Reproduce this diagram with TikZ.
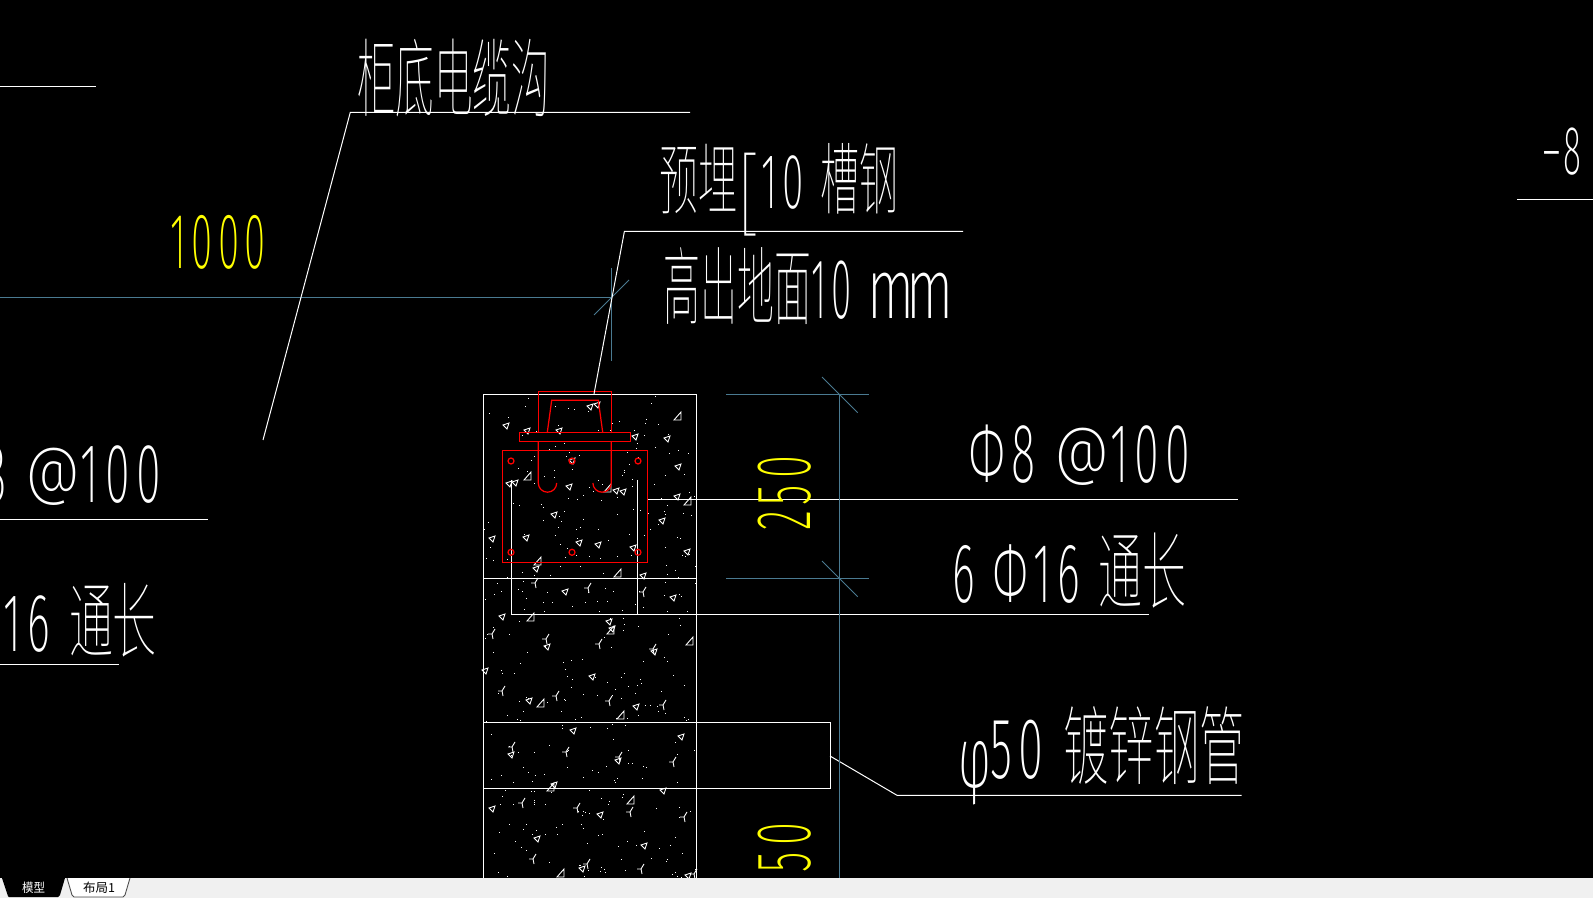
\documentclass[tikz,border=0pt]{standalone}
\usepackage{graphicx}
\usepackage{xcolor}
\usepackage{fontspec}
\usetikzlibrary{positioning}
\definecolor{dimblue}{rgb}{0.29, 0.48, 0.57}
\definecolor{cadyellow}{rgb}{1, 1, 0}
\definecolor{cadred}{rgb}{1, 0, 0}
\definecolor{bargrey}{rgb}{0.94, 0.94, 0.94}
\newfontfamily\cadcjk[UprightFont={* Thin}]{Noto Sans CJK SC}
\newfontfamily\tabcjk{Noto Sans CJK SC}
\newfontfamily\cadnum[LetterSpace=14,UprightFont={* ExtraLight}]{Fira Sans}
\newlength\pxu
\setlength\pxu{0.02cm}
\newcommand{\fitbox}[3]{\resizebox*{#1\pxu}{#2\pxu}{#3}}
\newcommand{\flatat}{\raisebox{0.11em}[0.69em][0pt]{\scalebox{1.2}[0.76]{@}}}

\begin{document}
\begin{tikzpicture}[x=0.02cm,y=-0.02cm]
	\tikzstyle{cadline} = [draw=white,line width=0.57pt]
	\tikzstyle{rebar} = [draw=cadred,line width=0.7pt]
	\tikzstyle{dimline} = [draw=dimblue,line width=0.57pt]
	\tikzstyle{label} = [inner sep=0pt,text=white]
	\tikzstyle{dimlabel} = [inner sep=0pt,text=cadyellow]
	\tikzstyle{speck} = [draw=white,line width=0.5pt]
	\useasboundingbox (0,0) rectangle (1593,898);
	\clip (0,0) rectangle (1593,898);
	\fill[black] (0,0) rectangle (1593,898);
	% concrete filling
	\pgfmathsetseed{4217}
	\foreach \i in {1,...,360} {
		\pgfmathsetmacro{\dx}{484+rnd*213}
		\pgfmathsetmacro{\dy}{395+rnd*483}
		\fill[white] (\dx,\dy) rectangle ++(1,1);
	}
	\foreach \x/\y in {678/417,688/502,618/574,538/562,528/477,608/489,531/618,611/631,690/642,541/704,621/716,551/788,631/801,561/874} {
		\draw[speck] (\x+3,\y-5) -- (\x+3,\y+3) -- (\x-4,\y+3) -- cycle;
	}
	\foreach \x/\y in {506/426,527/431,559/431,590/407,597/405,635/437,667/439,678/467,572/461,515/483,509/484,569/487,616/491,623/492,677/497,554/515,662/521,492/539,526/538,579/543,598/545,633/548,687/552,536/569,643/576,565/592,673/598,502/617,609/622,612/629,547/647,654/652,485/671,592/677,529/701,636/707,573/731,681/737,511/755,618/761,554/785,663/791,492/809,600/815,537/839,644/846,582/869,688/876} {
		\draw[speck] (\x-3,\y-1) -- (\x+3,\y-3) -- (\x+1,\y+3) -- cycle;
	}
	\foreach \x/\y in {535/583,588/588,643/592,492/634,546/639,599/644,653/649,502/691,556/696,609/701,663/705,512/747,566/752,619/757,673/762,522/803,577/808,630/812,684/817,533/859,587/864,641/869,694/874} {
		\draw[speck] (\x+3,\y-5) -- (\x,\y) -- (\x-4,\y);
		\draw[speck] (\x,\y) -- (\x+1,\y+5);
	}
	% concrete outline
	\draw[cadline] (483.7,878) -- (483.7,394.3) -- (696.7,394.3) -- (696.7,878);
	\draw[cadline] (483.7,578.3) -- (696.7,578.3);
	\draw[cadline] (511.3,480) -- (511.3,614.3) -- (1149,614.3);
	\draw[cadline] (637.3,480) -- (637.3,614.3);
	\draw[cadline] (647.7,499.3) -- (1237.7,499.3);
	% steel pipe
	\draw[cadline] (483.7,722.3) -- (830,722.3) -- (830,788.3) -- (483.7,788.3);
	\draw[cadline] (830,756) -- (897,795.3) -- (1241.7,795.3);
	% channel and bars
	\draw[rebar] (538.3,432.3) -- (538.3,391.3) -- (611.3,391.3) -- (611.3,432.3);
	\draw[rebar] (547.3,432.3) -- (551.7,400.3) -- (598.3,400.3) -- (602.7,432.3);
	\draw[rebar] (519.3,432.3) rectangle (630.7,441.7);
	\draw[rebar] (538.3,441.7) -- (538.3,483) arc (180:0:9.2);
	\draw[rebar] (611.3,441.7) -- (611.3,483) arc (0:180:9.2);
	\draw[rebar] (502.3,450.3) rectangle (647.3,562.3);
	\foreach \x in {511,572,638} {
		\foreach \y in {461,552.3} {
			\draw[rebar] (\x,\y) circle (3);
		}
	}
	% dimension lines
	\draw[dimline] (0,297.3) -- (611.6,297.3);
	\draw[dimline] (611.6,268) -- (611.6,361);
	\draw[dimline] (594,315) -- (629,280);
	\draw[dimline] (839.3,394.3) -- (839.3,878);
	\draw[dimline] (726,394.3) -- (869,394.3);
	\draw[dimline] (726,578.3) -- (869,578.3);
	\draw[dimline] (822,377) -- (857.7,412.7);
	\draw[dimline] (822,561) -- (857.7,596.7);
	% leaders
	\draw[cadline] (0,86.3) -- (96,86.3);
	\draw[cadline] (690,112.3) -- (350.3,112.3) -- (263,440);
	\draw[cadline] (963,231.3) -- (624.4,231.3) -- (594,394);
	\draw[cadline] (0,519.3) -- (208,519.3);
	\draw[cadline] (0,664.3) -- (118.7,664.3);
	\draw[cadline] (1517,199.3) -- (1593,199.3);
	% labels
	\node[label] (cable) at (453.5,78.5) {\fitbox{193}{78}{\cadcjk 柜底电缆沟}};
	\node[label] (channel) at (779,189.5) {\fitbox{239}{93}{\cadcjk 预埋\raisebox{-0.17em}{\scalebox{1.7}[1.12]{[}}\hspace{0.1em}{\cadnum 10 }槽钢}};
	\node[label] (height) at (809,286.5) {\fitbox{290}{77}{\cadcjk 高出地面{\cadnum 10 \scalebox{1.5}[1]{m\kern-0.14em m}}}};
	\node[label] (stirrupr) at (1080.3,453.5) {\fitbox{220.7}{59}{\cadnum Φ8 \flatat 100}};
	\node[label] (stirrupl) at (50.7,473.5) {\fitbox{220}{59}{\cadnum Φ8 \flatat 100}};
	\node[label] (mainr) at (1069,570.6) {\fitbox{234}{75.3}{{\cadnum 6 Φ16 }\cadcjk 通长}};
	\node[label] (mainl) at (39.7,619.8) {\fitbox{234}{73.7}{{\cadnum 6 Φ16 }\cadcjk 通长}};
	\node[label] (pipe) at (1101.5,746) {\fitbox{287}{78}{{\cadnum \raisebox{-0.1em}[0.7em][0pt]{φ}50 }\cadcjk 镀锌钢管}};
	\node[label] (minus) at (1561.3,152) {\fitbox{40.7}{47.4}{\cadnum \scalebox{1.7}[1]{-}8}};
	\node[dimlabel] (widtha) at (218.4,242) {\fitbox{95.2}{54}{\cadnum 1000}};
	\node[dimlabel,rotate=90] (heighta) at (785,493.4) {\fitbox{74.7}{53.4}{\cadnum 250}};
	\node[dimlabel,rotate=90] (heightb) at (785,847.5) {\fitbox{49}{53.4}{\cadnum 50}};
	% tab bar
	\fill[bargrey] (0,878) rectangle (1593,898);
	\fill[black] (2,878) -- (8,896) -- (9,897) -- (58,897) -- (60,895) -- (65,878) -- cycle;
	\draw[black!70,line width=0.5pt,fill=white] (67,878) -- (72,895) -- (74,897) -- (123,897) -- (125,895) -- (130,878);
	\node[inner sep=0pt,text=white] (model) at (33.5,887.5) {\fitbox{23}{11.5}{\tabcjk 模型}};
	\node[inner sep=0pt,text=black] (layout) at (99,887.5) {\fitbox{32}{11.5}{\tabcjk 布局1}};
\end{tikzpicture}
\end{document}
